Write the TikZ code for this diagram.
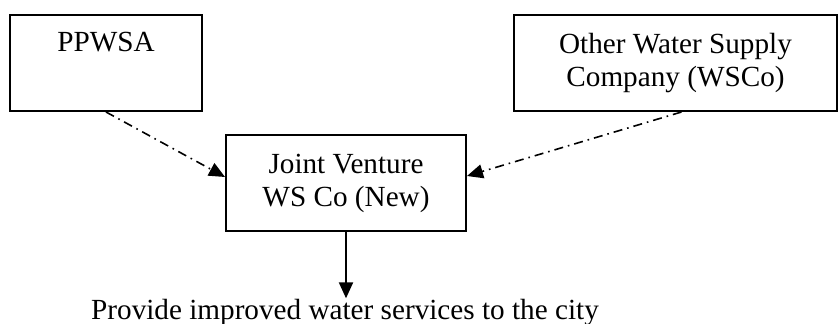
\documentclass[tikz,border=0pt]{standalone}
\usepackage{fontspec}
\setmainfont{Liberation Serif}
\usetikzlibrary{arrows.meta}
\tikzset{
  box/.style={draw,line width=1pt,minimum width=#1,minimum height=48pt,align=center,inner sep=2pt},
  dashdot/.style={line width=0.8pt,dash pattern=on 4.5pt off 2.5pt on 0.8pt off 2.5pt,-{Triangle[length=8pt,width=7pt]}}
}
\begin{document}
\begin{tikzpicture}[x=0.5pt,y=-0.5pt,font=\fontsize{14.6}{16.5}\selectfont]
\useasboundingbox (0,0) rectangle (839,324);
\node[box=96pt] (ppwsa) at (106,63) {PPWSA\\ \strut};
\node[box=161.5pt] (other) at (675.5,63) {Other Water Supply\\Company (WSCo)};
\node[box=120pt] (jv) at (346,183) {Joint Venture\\WS Co (New)};
\node[anchor=base,inner sep=0.5pt] (city) at (345,320) {Provide improved water services to the city};
\draw[dashdot] (ppwsa.south) -- ([yshift=3pt]jv.west);
\draw[dashdot] ([xshift=3pt]other.south) -- ([yshift=3.5pt]jv.east);
\draw[line width=1pt,-{Triangle[length=8pt,width=7pt]}] (jv.south) -- (jv.south |- city.north);
\end{tikzpicture}
\end{document}
